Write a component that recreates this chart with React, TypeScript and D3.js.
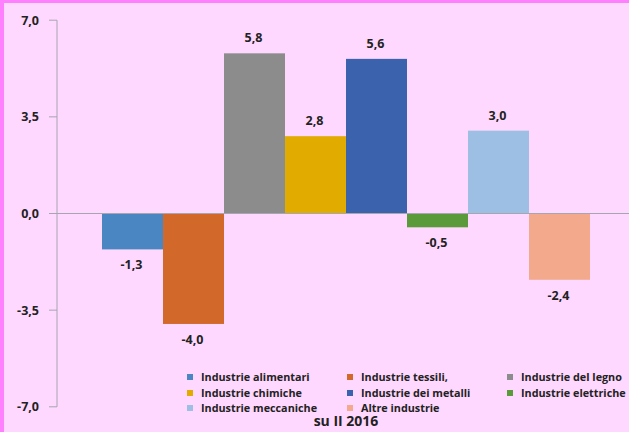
import React from "react";
import * as d3 from "d3";

const categories = [
  "Industrie alimentari",
  "Industrie tessili,",
  "Industrie del legno",
  "Industrie chimiche",
  "Industrie dei metalli",
  "Industrie elettriche",
  "Industrie meccaniche",
  "Altre industrie",
];
const values = [-1.3, -4.0, 5.8, 2.8, 5.6, -0.5, 3.0, -2.4];
const colors = ["#4a86c2", "#d2692a", "#8c8c8c", "#e2ab00", "#3a62ad", "#5b9a3a", "#9dbfe4", "#f2a98c"];
const yTicks = [-7, -3.5, 0, 3.5, 7];
const subtitle = "su II 2016";

const W = 629;
const H = 432;
const FONT = "'Open Sans', 'DejaVu Sans', sans-serif";

export default function App() {
  const y = d3.scaleLinear().domain([-7, 7]).range([406.8, 20.2]);
  const x = d3.scaleBand<string>().domain(categories).range([102, 590]).padding(0);
  const axisX = 57;
  const fmt = (v: number) => v.toFixed(1).replace(".", ",");

  const legendCols = [187, 347, 507];
  const legendRows = [377, 393, 408];

  return (
    <svg
      width={W}
      height={H}
      style={{ position: "absolute", left: 0, top: 0, display: "block" }}
      fontFamily={FONT}
    >
      <rect x={0} y={0} width={W} height={H} fill="#ffd8ff" />
      <rect x={0} y={0} width={W} height={3} fill="#ff80ff" />
      <rect x={0} y={0} width={4} height={H} fill="#ff80ff" />

      {/* y axis */}
      <line x1={axisX} x2={axisX} y1={y(7)} y2={y(-7)} stroke="#a6a6b0" strokeWidth={1} />
      {yTicks.map((t) => (
        <g key={t}>
          <line x1={axisX - 8} x2={axisX} y1={y(t)} y2={y(t)} stroke="#a6a6b0" strokeWidth={1} />
          <text
            x={39}
            y={y(t)}
            dy="0.35em"
            textAnchor="end"
            fontSize={12.5}
            fontWeight="bold"
            fill="#222"
          >
            {fmt(t)}
          </text>
        </g>
      ))}

      {/* bars */}
      {categories.map((c, i) => {
        const v = values[i];
        const y0 = y(0);
        const y1 = y(v);
        return (
          <rect
            key={c}
            x={x(c)!}
            y={Math.min(y0, y1)}
            width={x.bandwidth()}
            height={Math.abs(y1 - y0)}
            fill={colors[i]}
          />
        );
      })}

      {/* zero line */}
      <line x1={axisX} x2={W} y1={y(0)} y2={y(0)} stroke="#a6a6b0" strokeWidth={1} />

      {/* value labels */}
      {categories.map((c, i) => {
        const v = values[i];
        const cx = x(c)! + x.bandwidth() / 2 - 1;
        const ly = v >= 0 ? y(v) - 11 : y(v) + 20;
        return (
          <text
            key={c + "l"}
            x={cx}
            y={ly}
            textAnchor="middle"
            fontSize={12.5}
            fontWeight="bold"
            fill="#222"
          >
            {fmt(v)}
          </text>
        );
      })}

      {/* legend */}
      {categories.map((c, i) => {
        const col = i % 3;
        const row = Math.floor(i / 3);
        const lx = legendCols[col];
        const ly = legendRows[row];
        return (
          <g key={c + "g"}>
            <rect x={lx} y={ly - 3} width={6} height={6} fill={colors[i]} />
            <text x={lx + 14} y={ly} dy="0.35em" fontSize={10.8} fontWeight="bold" fill="#222">
              {c}
            </text>
          </g>
        );
      })}

      <text x={346} y={426} textAnchor="middle" fontSize={14} fontWeight="bold" fill="#222">
        {subtitle}
      </text>
    </svg>
  );
}
